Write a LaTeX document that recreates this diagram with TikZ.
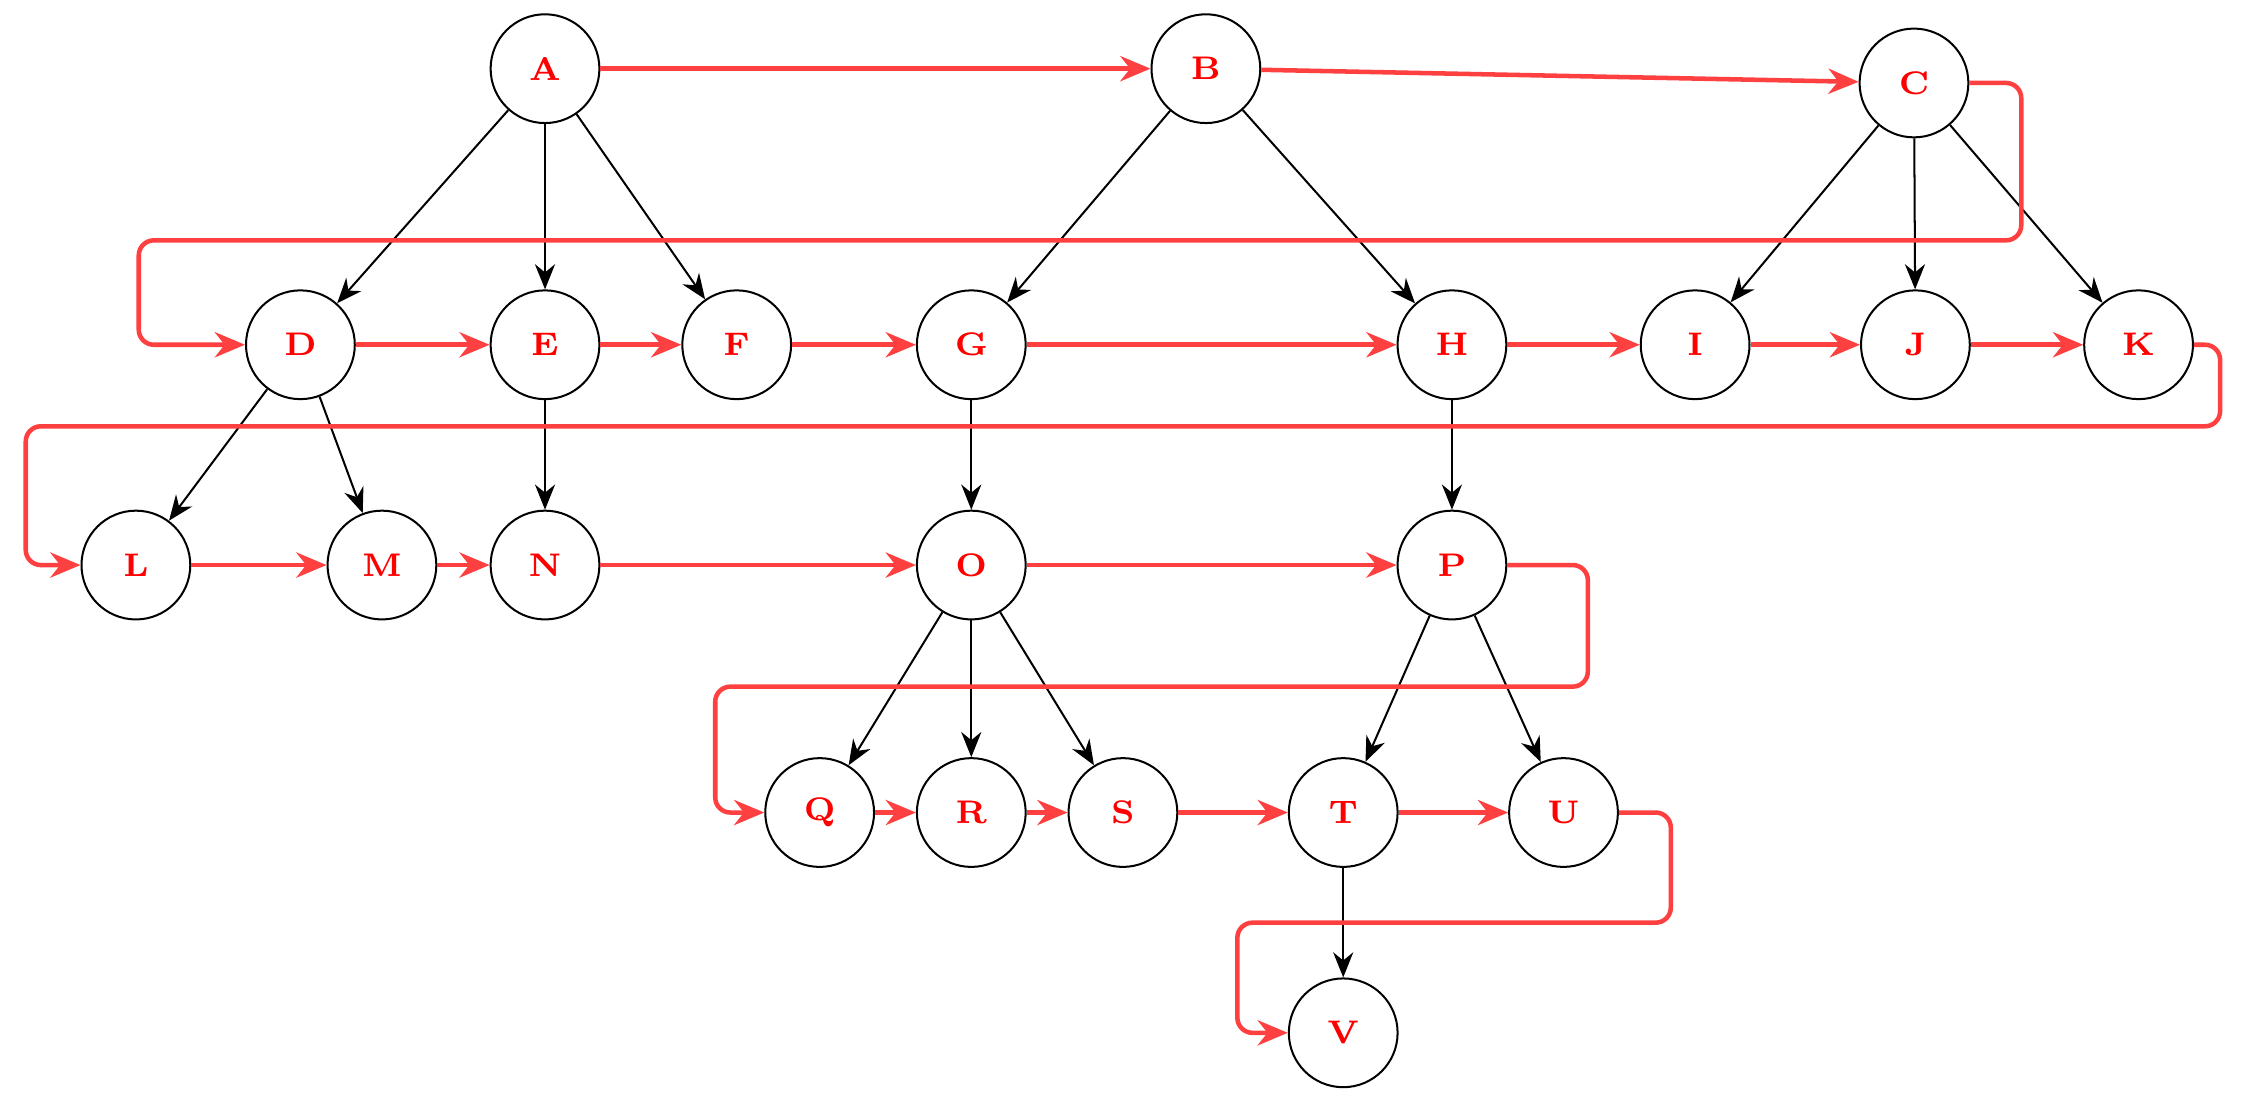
\documentclass[tikz,border=0pt]{standalone}
\usetikzlibrary{arrows.meta}
\definecolor{rd}{RGB}{255,64,64}
\begin{document}
\begin{tikzpicture}[x=0.01cm,y=-0.01cm,
 vtx/.style={circle,draw,line width=0.4pt,minimum size=0.76cm,inner sep=0pt,text=red,font=\fontsize{6.5}{7}\selectfont\bfseries},
 tr/.style={-{Stealth[length=5pt,width=4pt]},line width=0.4pt},
 rp/.style={-{Stealth[length=6pt,width=5pt]},draw=rd,line width=0.9pt,rounded corners=3pt}]
\useasboundingbox (0,0) rectangle (1568,769);
\foreach \n/\x/\y in {A/381/48,B/843/48,C/1338/58,D/210/241,E/381/241,F/515/241,G/679/241,H/1015/241,I/1185/241,J/1339/241,K/1495/241,L/95/395,M/267/395,N/381/395,O/679/395,P/1015/395,Q/573/568,R/679/568,S/785/568,T/939/568,U/1093/568,V/939/722}
  \node[vtx] (\n) at (\x,\y) {\n};
\foreach \a/\b in {A/D,A/E,A/F,B/G,B/H,C/I,C/J,C/K,D/L,D/M,E/N,G/O,H/P,O/Q,O/R,O/S,P/T,P/U,T/V}
  \draw[tr] (\a) -- (\b);
\foreach \a/\b in {A/B,B/C,D/E,E/F,F/G,G/H,H/I,I/J,J/K,L/M,M/N,N/O,O/P,Q/R,R/S,S/T,T/U}
  \draw[rp] (\a) -- (\b);
\draw[rp] (C.east) -- (1413,58) -- (1413,168) -- (97,168) -- (97,241) -- (D.west);
\draw[rp] (K.east) -- (1552,241) -- (1552,298) -- (18,298) -- (18,395) -- (L.west);
\draw[rp] (P.east) -- (1110,395) -- (1110,480) -- (500,480) -- (500,568) -- (Q.west);
\draw[rp] (U.east) -- (1168,568) -- (1168,645) -- (865,645) -- (865,722) -- (V.west);
\end{tikzpicture}
\end{document}
